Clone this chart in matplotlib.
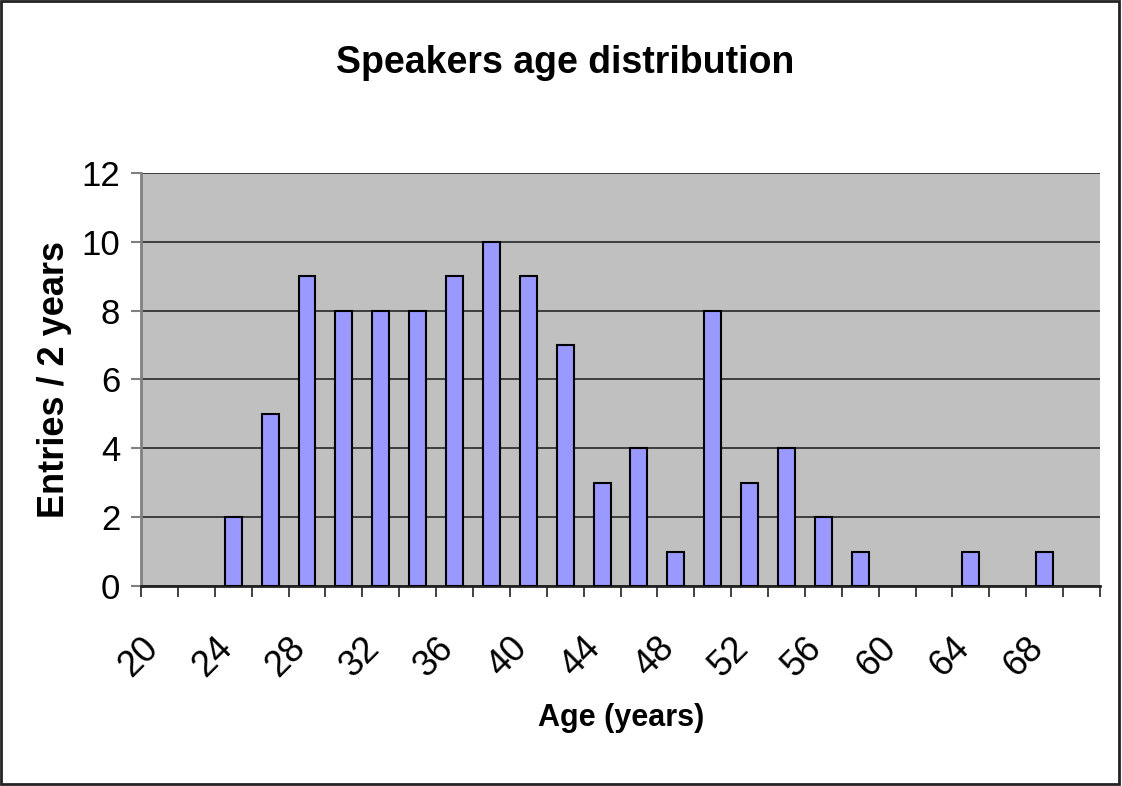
import numpy as np
import matplotlib
matplotlib.use("Agg")
import matplotlib.pyplot as plt
from matplotlib.patches import Rectangle

plt.rcParams['font.family'] = ['Liberation Sans', 'DejaVu Sans']

# age bins (2 years each) and entries per bin
ages = [20, 22, 24, 26, 28, 30, 32, 34, 36, 38, 40, 42, 44,
        46, 48, 50, 52, 54, 56, 58, 60, 62, 64, 66, 68, 70]
entries = [0, 0, 2, 5, 9, 8, 8, 8, 9, 10, 9, 7, 3,
           4, 1, 8, 3, 4, 2, 1, 0, 0, 1, 0, 1, 0]
yticks = [0, 2, 4, 6, 8, 10, 12]

fig = plt.figure(figsize=(11.22, 7.86), dpi=100)
ax = fig.add_axes([0.1257, 0.2545, 0.8547, 0.5254])

x = np.arange(len(ages))
ax.set_facecolor("#C0C0C0")
# empty bins get no outline
lw = [1.5 if v > 0 else 0 for v in entries]
ax.bar(x, entries, width=0.46, color="#9999FF", edgecolor="black",
       linewidth=lw, zorder=3)

ax.set_xlim(-0.5, len(ages) - 0.5)
ax.set_ylim(0, 12)

# y axis
ax.set_yticks(yticks)
ax.set_yticklabels([str(v) for v in yticks], fontsize=25)
ax.tick_params(axis="y", length=7, width=1.5, color="#808080", pad=8)
ax.grid(axis="y", color="#333333", linewidth=1.3, zorder=1)

# x axis: ticks at bin boundaries, labels on every other bin
ax.set_xticks(np.arange(-0.5, len(ages), 1.0))
ax.set_xticklabels([])
ax.tick_params(axis="x", which="major", length=8, width=1.3, color="#333333")
ax.set_xticks(x[::2], minor=True)
ax.set_xticklabels([str(a) for a in ages[::2]], minor=True, fontsize=26,
                   rotation=45, ha="right", va="baseline", rotation_mode="anchor")
ax.tick_params(axis="x", which="minor", length=0, pad=46)

for side in ["top", "right"]:
    ax.spines[side].set_visible(False)
ax.spines["left"].set_color("#808080")
ax.spines["left"].set_linewidth(2)
ax.spines["bottom"].set_color("#222222")
ax.spines["bottom"].set_linewidth(2)

fig.text(0.504, 0.92, "Speakers age distribution", ha="center", va="center",
         fontsize=27, fontweight="bold")
ax.set_ylabel("Entries / 2 years", fontsize=26, fontweight="bold", labelpad=7)
fig.text(0.554, 0.087, "Age (years)", ha="center", va="center",
         fontsize=22, fontweight="bold")

# outer frame of the chart
fig.patches.append(Rectangle((0.001, 0.002), 0.996, 0.997, transform=fig.transFigure,
                             fill=False, edgecolor="#222222", linewidth=2))

fig.savefig("out.png", dpi=100)
